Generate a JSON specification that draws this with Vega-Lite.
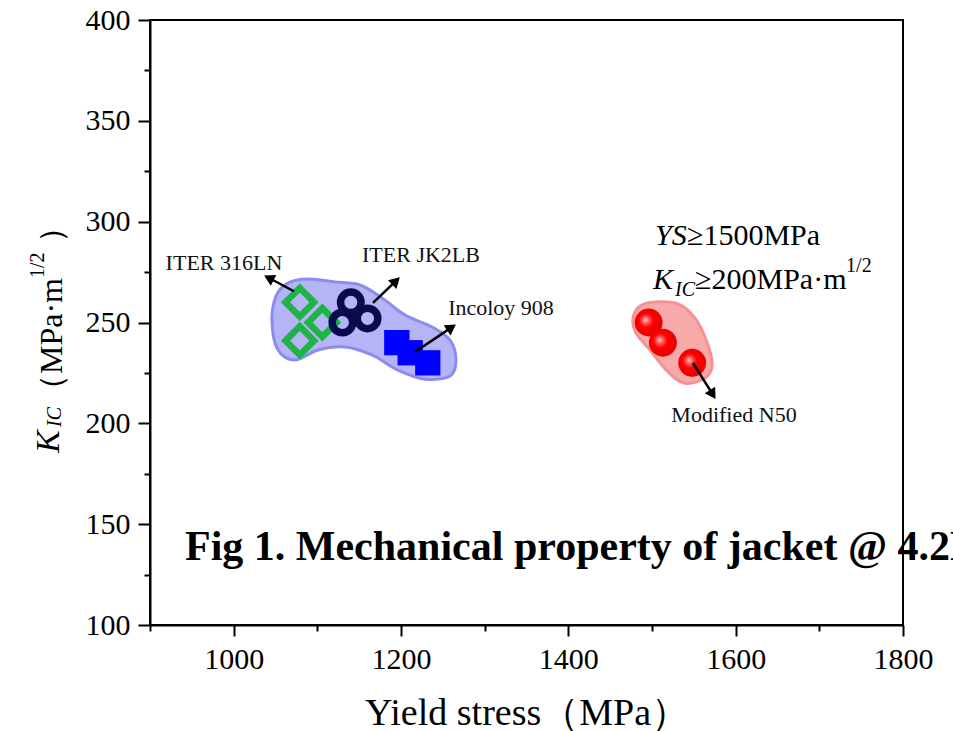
{
  "$schema": "https://vega.github.io/schema/vega-lite/v6.json",
  "width": 753,
  "height": 605,
  "autosize": "none",
  "padding": {"left": 150, "top": 20, "right": 50, "bottom": 106},
  "background": "white",
  "config": {
    "view": {"stroke": "black", "strokeWidth": 2},
    "font": "Liberation Serif"
  },
  "datasets": {
    "points": [
      {"material": "ITER 316LN", "ys": 1079, "kic": 260},
      {"material": "ITER 316LN", "ys": 1106, "kic": 250},
      {"material": "ITER 316LN", "ys": 1079, "kic": 241},
      {"material": "ITER JK2LB", "ys": 1140, "kic": 260},
      {"material": "ITER JK2LB", "ys": 1130, "kic": 250},
      {"material": "ITER JK2LB", "ys": 1160, "kic": 252},
      {"material": "Incoloy 908", "ys": 1195, "kic": 240},
      {"material": "Incoloy 908", "ys": 1211, "kic": 235},
      {"material": "Incoloy 908", "ys": 1232, "kic": 230},
      {"material": "Modified N50", "ys": 1496, "kic": 250},
      {"material": "Modified N50", "ys": 1513, "kic": 240},
      {"material": "Modified N50", "ys": 1548, "kic": 230}
    ],
    "hulls": [
      {"group": "ITER", "order": 1, "ys": 1045.8, "kic": 250.2},
      {"group": "ITER", "order": 2, "ys": 1050.6, "kic": 263.1},
      {"group": "ITER", "order": 3, "ys": 1064.9, "kic": 269.6},
      {"group": "ITER", "order": 4, "ys": 1088.8, "kic": 271.6},
      {"group": "ITER", "order": 5, "ys": 1121.1, "kic": 270.1},
      {"group": "ITER", "order": 6, "ys": 1151.0, "kic": 268.6},
      {"group": "ITER", "order": 7, "ys": 1177.3, "kic": 262.1},
      {"group": "ITER", "order": 8, "ys": 1204.8, "kic": 253.7},
      {"group": "ITER", "order": 9, "ys": 1237.1, "kic": 247.8},
      {"group": "ITER", "order": 10, "ys": 1258.6, "kic": 241.3},
      {"group": "ITER", "order": 11, "ys": 1265.7, "kic": 231.4},
      {"group": "ITER", "order": 12, "ys": 1258.6, "kic": 223.5},
      {"group": "ITER", "order": 13, "ys": 1228.7, "kic": 221.9},
      {"group": "ITER", "order": 14, "ys": 1196.4, "kic": 226.4},
      {"group": "ITER", "order": 15, "ys": 1165.3, "kic": 233.9},
      {"group": "ITER", "order": 16, "ys": 1133.1, "kic": 237.9},
      {"group": "ITER", "order": 17, "ys": 1100.8, "kic": 236.4},
      {"group": "ITER", "order": 18, "ys": 1073.3, "kic": 231.4},
      {"group": "ITER", "order": 19, "ys": 1053.0, "kic": 236.4},
      {"group": "N50", "order": 1, "ys": 1477.3, "kic": 252.2},
      {"group": "N50", "order": 2, "ys": 1485.7, "kic": 258.2},
      {"group": "N50", "order": 3, "ys": 1503.6, "kic": 260.2},
      {"group": "N50", "order": 4, "ys": 1531.1, "kic": 259.2},
      {"group": "N50", "order": 5, "ys": 1551.4, "kic": 252.2},
      {"group": "N50", "order": 6, "ys": 1565.7, "kic": 240.3},
      {"group": "N50", "order": 7, "ys": 1571.7, "kic": 228.9},
      {"group": "N50", "order": 8, "ys": 1563.3, "kic": 222.5},
      {"group": "N50", "order": 9, "ys": 1539.4, "kic": 219.9},
      {"group": "N50", "order": 10, "ys": 1519.1, "kic": 225.5},
      {"group": "N50", "order": 11, "ys": 1497.6, "kic": 236.4},
      {"group": "N50", "order": 12, "ys": 1480.9, "kic": 244.8}
    ],
    "arrows": [
      {"name": "316LN", "ys": 1072.0, "kic": 265.5, "ys2": 1043.9, "kic2": 271.7},
      {"name": "JK2LB", "ys": 1166.5, "kic": 259.7, "ys2": 1192.5, "kic2": 270.0},
      {"name": "Incoloy", "ys": 1216.7, "kic": 235.4, "ys2": 1258.6, "kic2": 247.1},
      {"name": "N50", "ys": 1549.0, "kic": 229.9, "ys2": 1571.5, "kic2": 215.1}
    ],
    "labels": [
      {"t": "ITER 316LN", "ys": 988.4, "kic": 279.5},
      {"t": "ITER JK2LB", "ys": 1223.9, "kic": 283.5},
      {"t": "Incoloy 908", "ys": 1319.5, "kic": 257.2},
      {"t": "Modified N50", "ys": 1598.0, "kic": 204.1}
    ],
    "italicBig": [
      {"t": "YS", "ys": 1503.6, "kic": 288.4},
      {"t": "K", "ys": 1501.2, "kic": 266.6}
    ],
    "normalBig": [
      {"t": "≥1500MPa", "ys": 1541.8, "kic": 288.4},
      {"t": "≥200MPa·m", "ys": 1551.4, "kic": 266.6}
    ],
    "italicSmall": [
      {"t": "IC", "ys": 1527.5, "kic": 263.1}
    ],
    "normalSmall": [
      {"t": "1/2", "ys": 1732.0, "kic": 275.0}
    ],
    "yItalicBig": [{"t": "K", "ys": 791.2, "kic": 185.3}],
    "yItalicSmall": [{"t": "IC", "ys": 793.6, "kic": 198.2}],
    "yNormalBig": [
      {"t": "（MPa·m", "ys": 794.8, "kic": 208.6},
      {"t": "）", "ys": 794.8, "kic": 289.5}
    ],
    "yNormalSmall": [{"t": "1/2", "ys": 773.3, "kic": 272.1}],
    "title": [{"t": "Fig 1. Mechanical property of jacket @ 4.2K", "ys": 941.8, "kic": 132.2}]
  },
  "encoding": {
    "x": {
      "field": "ys", "type": "quantitative",
      "scale": {"domain": [900, 1800], "nice": false, "zero": false},
      "axis": {
        "values": [900, 1000, 1100, 1200, 1300, 1400, 1500, 1600, 1700, 1800],
        "format": "d",
        "labelExpr": "datum.value % 200 == 0 ? datum.label : ''",
        "grid": false,
        "domainColor": "black", "domainWidth": 2,
        "tickColor": "black", "tickWidth": 2,
        "tickSize": {"condition": {"test": "datum.value % 200 == 0", "value": 11}, "value": 6},
        "labelFont": "Liberation Serif", "labelFontSize": 30, "labelColor": "black",
        "labelPadding": 8, "labelFlush": false,
        "title": "Yield stress（MPa）",
        "titleFont": "Liberation Serif", "titleFontSize": 38, "titleFontWeight": "normal",
        "titleColor": "black", "titlePadding": 20
      }
    },
    "y": {
      "field": "kic", "type": "quantitative",
      "scale": {"domain": [100, 400], "nice": false, "zero": false},
      "axis": {
        "values": [100, 125, 150, 175, 200, 225, 250, 275, 300, 325, 350, 375, 400],
        "format": "d",
        "labelExpr": "datum.value % 50 == 0 ? datum.label : ''",
        "grid": false,
        "domainColor": "black", "domainWidth": 2,
        "tickColor": "black", "tickWidth": 2,
        "tickSize": {"condition": {"test": "datum.value % 50 == 0", "value": 12}, "value": 6},
        "labelFont": "Liberation Serif", "labelFontSize": 30, "labelColor": "black",
        "labelPadding": 8, "labelFlush": false,
        "title": null
      }
    }
  },
  "layer": [
    {
      "data": {"name": "hulls"},
      "transform": [{"filter": "datum.group == 'ITER'"}],
      "mark": {"type": "line", "interpolate": "cardinal-closed", "fill": "#b4b4f6", "stroke": "#8c8cf0", "strokeWidth": 3},
      "encoding": {"order": {"field": "order", "type": "quantitative"}}
    },
    {
      "data": {"name": "hulls"},
      "transform": [{"filter": "datum.group == 'N50'"}],
      "mark": {"type": "line", "interpolate": "cardinal-closed", "fill": "#f8a9a9", "stroke": "#f59292", "strokeWidth": 3},
      "encoding": {"order": {"field": "order", "type": "quantitative"}}
    },
    {
      "data": {"name": "points"},
      "transform": [{"filter": "datum.material == 'ITER 316LN'"}],
      "mark": {"type": "point", "shape": "diamond", "filled": false, "stroke": "#1db445", "strokeWidth": 6.5, "size": 820, "opacity": 1}
    },
    {
      "data": {"name": "points"},
      "transform": [{"filter": "datum.material == 'ITER JK2LB'"}],
      "mark": {"type": "point", "shape": "circle", "filled": false, "stroke": "#0a0a4e", "strokeWidth": 7.5, "size": 420, "opacity": 1}
    },
    {
      "data": {"name": "points"},
      "transform": [{"filter": "datum.material == 'Incoloy 908'"}],
      "mark": {"type": "point", "shape": "square", "filled": true, "fill": "#0000ff", "strokeWidth": 0, "size": 640, "opacity": 1}
    },
    {
      "data": {"name": "points"},
      "transform": [{"filter": "datum.material == 'Modified N50'"}],
      "mark": {
        "type": "point", "shape": "circle", "filled": true, "strokeWidth": 0, "size": 780, "opacity": 1,
        "fill": {
          "gradient": "radial", "x1": 0.38, "y1": 0.4, "r1": 0, "x2": 0.45, "y2": 0.47, "r2": 0.56,
          "stops": [
            {"offset": 0, "color": "#ffd8d8"},
            {"offset": 0.2, "color": "#ff6060"},
            {"offset": 0.45, "color": "#ff0000"},
            {"offset": 1, "color": "#e60000"}
          ]
        }
      }
    },
    {
      "data": {"name": "arrows"},
      "mark": {"type": "rule", "color": "black", "strokeWidth": 2.5},
      "encoding": {"x2": {"field": "ys2"}, "y2": {"field": "kic2"}}
    },
    {
      "data": {"name": "arrows"},
      "transform": [{"filter": "datum.name == '316LN'"}],
      "mark": {"type": "point", "shape": "triangle", "filled": true, "fill": "black", "strokeWidth": 0, "size": 150, "angle": 297, "opacity": 1},
      "encoding": {"x": {"field": "ys2", "type": "quantitative"}, "y": {"field": "kic2", "type": "quantitative"}}
    },
    {
      "data": {"name": "arrows"},
      "transform": [{"filter": "datum.name == 'JK2LB'"}],
      "mark": {"type": "point", "shape": "triangle", "filled": true, "fill": "black", "strokeWidth": 0, "size": 150, "angle": 46, "opacity": 1},
      "encoding": {"x": {"field": "ys2", "type": "quantitative"}, "y": {"field": "kic2", "type": "quantitative"}}
    },
    {
      "data": {"name": "arrows"},
      "transform": [{"filter": "datum.name == 'Incoloy'"}],
      "mark": {"type": "point", "shape": "triangle", "filled": true, "fill": "black", "strokeWidth": 0, "size": 150, "angle": 56, "opacity": 1},
      "encoding": {"x": {"field": "ys2", "type": "quantitative"}, "y": {"field": "kic2", "type": "quantitative"}}
    },
    {
      "data": {"name": "arrows"},
      "transform": [{"filter": "datum.name == 'N50'"}],
      "mark": {"type": "point", "shape": "triangle", "filled": true, "fill": "black", "strokeWidth": 0, "size": 150, "angle": 148, "opacity": 1},
      "encoding": {"x": {"field": "ys2", "type": "quantitative"}, "y": {"field": "kic2", "type": "quantitative"}}
    },
    {
      "data": {"name": "labels"},
      "mark": {"type": "text", "font": "Liberation Serif", "fontSize": 22, "color": "#111111", "align": "center", "baseline": "middle"},
      "encoding": {"text": {"field": "t"}}
    },
    {
      "data": {"name": "italicBig"},
      "mark": {"type": "text", "font": "Liberation Serif", "fontSize": 30, "fontStyle": "italic", "color": "black", "align": "left", "baseline": "alphabetic"},
      "encoding": {"text": {"field": "t"}}
    },
    {
      "data": {"name": "normalBig"},
      "mark": {"type": "text", "font": "Liberation Serif", "fontSize": 30, "color": "black", "align": "left", "baseline": "alphabetic"},
      "encoding": {"text": {"field": "t"}}
    },
    {
      "data": {"name": "italicSmall"},
      "mark": {"type": "text", "font": "Liberation Serif", "fontSize": 20, "fontStyle": "italic", "color": "black", "align": "left", "baseline": "alphabetic"},
      "encoding": {"text": {"field": "t"}}
    },
    {
      "data": {"name": "normalSmall"},
      "mark": {"type": "text", "font": "Liberation Serif", "fontSize": 20, "color": "black", "align": "left", "baseline": "alphabetic"},
      "encoding": {"text": {"field": "t"}}
    },
    {
      "data": {"name": "yItalicBig"},
      "mark": {"type": "text", "font": "Liberation Serif", "fontSize": 34, "fontStyle": "italic", "color": "black", "align": "left", "baseline": "alphabetic", "angle": 270},
      "encoding": {"text": {"field": "t"}}
    },
    {
      "data": {"name": "yItalicSmall"},
      "mark": {"type": "text", "font": "Liberation Serif", "fontSize": 20, "fontStyle": "italic", "color": "black", "align": "left", "baseline": "alphabetic", "angle": 270},
      "encoding": {"text": {"field": "t"}}
    },
    {
      "data": {"name": "yNormalBig"},
      "mark": {"type": "text", "font": "Liberation Serif", "fontSize": 32, "color": "black", "align": "left", "baseline": "alphabetic", "angle": 270},
      "encoding": {"text": {"field": "t"}}
    },
    {
      "data": {"name": "yNormalSmall"},
      "mark": {"type": "text", "font": "Liberation Serif", "fontSize": 20, "color": "black", "align": "left", "baseline": "alphabetic", "angle": 270},
      "encoding": {"text": {"field": "t"}}
    },
    {
      "data": {"name": "title"},
      "mark": {"type": "text", "font": "Liberation Serif", "fontSize": 42, "fontWeight": "bold", "color": "black", "align": "left", "baseline": "alphabetic"},
      "encoding": {"text": {"field": "t"}}
    }
  ]
}
